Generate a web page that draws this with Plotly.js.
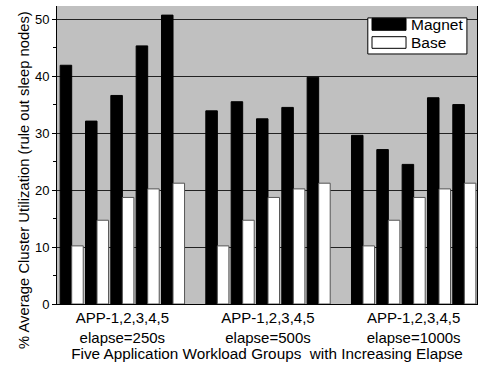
<!DOCTYPE html>
<html>
<head>
<meta charset="utf-8">
<script src="https://cdn.plot.ly/plotly-3.0.1.min.js"></script>
<style>html,body{margin:0;padding:0;background:#fff;}#chart{width:478px;height:367px;}</style>
</head>
<body>
<div id="chart"></div>
<script>
// ---- data ----
var groupLabels = ["APP-1,2,3,4,5<br>elapse=250s", "APP-1,2,3,4,5<br>elapse=500s", "APP-1,2,3,4,5<br>elapse=1000s"];
var apps = ["APP-1", "APP-2", "APP-3", "APP-4", "APP-5"];
var magnet250 = [41.9, 32.1, 36.6, 45.3, 50.7];
var magnet500 = [33.9, 35.5, 32.5, 34.5, 39.8];
var magnet1000 = [29.6, 27.1, 24.5, 36.2, 35.0];
var base250 = [10.2, 14.7, 18.7, 20.2, 21.2];
var base500 = [10.2, 14.7, 18.7, 20.2, 21.2];
var base1000 = [10.2, 14.7, 18.7, 20.2, 21.2];
var seriesNames = ["Magnet", "Base"];
var xTitle = "Five Application Workload Groups  with Increasing Elapse";
var yTitle = "% Average Cluster Utilization (rule out sleep nodes)";

// ---- layout helpers ----
var groupSpacing = 5.75;
var magnetAll = [magnet250, magnet500, magnet1000];
var baseAll = [base250, base500, base1000];
var xs = [], mv = [], bv = [], tickVals = [];
for (var g = 0; g < groupLabels.length; g++) {
  for (var i = 0; i < apps.length; i++) {
    xs.push(g * groupSpacing + i);
    mv.push(magnetAll[g][i]);
    bv.push(baseAll[g][i]);
  }
  tickVals.push(g * groupSpacing + (apps.length - 1) / 2);
}

var font = "Liberation Sans, Arial, sans-serif";
var traces = [
  {type: "bar", name: seriesNames[0], x: xs, y: mv, showlegend: false,
   marker: {color: "#000", line: {color: "#000", width: 1}}},
  {type: "bar", name: seriesNames[1], x: xs, y: bv, showlegend: false,
   marker: {color: "#fff", line: {color: "#555", width: 1}}}
];

var layout = {
  width: 478, height: 367,
  margin: {l: 57, r: 1, t: 6, b: 63},
  paper_bgcolor: "#fff",
  plot_bgcolor: "#c0c0c0",
  barmode: "group",
  bargap: 0.09,
  bargroupgap: 0,
  font: {family: font, color: "#000"},
  xaxis: {
    range: [-0.58, 16.0],
    tickmode: "array", tickvals: tickVals, ticktext: groupLabels,
    ticks: "", showgrid: false, zeroline: false,
    showline: true, linecolor: "#000", linewidth: 1,
    tickfont: {size: 15, family: font},
    title: {text: xTitle, font: {size: 15.3, family: font}, standoff: 2}
  },
  yaxis: {
    range: [0, 52.3],
    dtick: 10, tick0: 0,
    ticks: "outside", ticklen: 4, tickcolor: "#000",
    minor: {dtick: 5, ticks: "outside", ticklen: 3, tickcolor: "#000", showgrid: false},
    showgrid: true, gridcolor: "#222", gridwidth: 1,
    zeroline: false,
    showline: true, mirror: true, linecolor: "#000", linewidth: 1,
    tickfont: {size: 13, family: font}
  },
  shapes: [
    {type: "rect", xref: "paper", yref: "paper", x0: 0.740, x1: 0.976, y0: 0.839, y1: 0.960,
     fillcolor: "#fff", line: {color: "#000", width: 1}},
    {type: "rect", xref: "paper", yref: "paper", x0: 0.750, x1: 0.831, y0: 0.9185, y1: 0.9587,
     fillcolor: "#000", line: {color: "#000", width: 1}},
    {type: "rect", xref: "paper", yref: "paper", x0: 0.750, x1: 0.831, y0: 0.858, y1: 0.897,
     fillcolor: "#fff", line: {color: "#000", width: 1}}
  ],
  annotations: [
    {xref: "paper", yref: "paper", x: 0.838, y: 0.938, xanchor: "left", yanchor: "middle",
     text: seriesNames[0], showarrow: false, font: {size: 15.5, family: font}},
    {xref: "paper", yref: "paper", x: 0.838, y: 0.8775, xanchor: "left", yanchor: "middle",
     text: seriesNames[1], showarrow: false, font: {size: 15.5, family: font}},
    {xref: "paper", yref: "paper", x: -0.0786, y: 0.416, xanchor: "center", yanchor: "middle",
     textangle: -90, text: yTitle, showarrow: false, font: {size: 14.8, family: font}}
  ]
};

Plotly.newPlot("chart", traces, layout, {displayModeBar: false, staticPlot: true});
</script>
</body>
</html>
